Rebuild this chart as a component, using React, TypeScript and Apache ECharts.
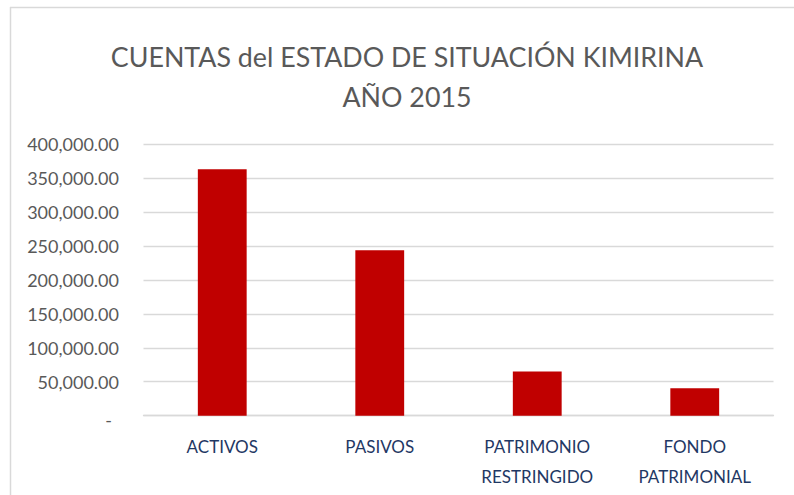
import React, { useEffect, useRef } from "react";
import * as echarts from "echarts";

const categories = ["ACTIVOS", "PASIVOS", "PATRIMONIO\nRESTRINGIDO", "FONDO\nPATRIMONIAL"];
const values = [362800, 243700, 65200, 40300];
const titleLines = ["CUENTAS del ESTADO DE SITUACIÓN KIMIRINA", "AÑO 2015"];

const fmt = (v: number) =>
  v === 0
    ? "{z|-}"
    : v.toLocaleString("en-US", { minimumFractionDigits: 2, maximumFractionDigits: 2 });

export default function App() {
  const ref = useRef<HTMLDivElement>(null);
  useEffect(() => {
    if (!ref.current) return;
    const chart = echarts.init(ref.current, undefined, { renderer: "svg" });
    chart.setOption({
      animation: false,
      backgroundColor: "#ffffff",
      title: {
        text: titleLines.join("\n"),
        left: 402,
        top: 32,
        textAlign: "center",
        textStyle: {
          fontFamily: "Lato",
          fontWeight: "normal",
          fontSize: 26.8,
          lineHeight: 40,
          color: "#595959",
        },
      },
      graphic: [
        { type: "line", shape: { x1: 10, y1: 7.5, x2: 794, y2: 7.5 }, style: { stroke: "#d9d9d9", lineWidth: 1.5 } },
        { type: "line", shape: { x1: 10.5, y1: 7, x2: 10.5, y2: 495 }, style: { stroke: "#d9d9d9", lineWidth: 1.5 } },
      ],
      grid: { left: 143.5, right: 20.5, top: 144, bottom: 79.3, containLabel: false },
      xAxis: {
        type: "category",
        data: categories,
        axisLine: { show: true, lineStyle: { color: "#d9d9d9", width: 1.3 } },
        axisTick: { show: false },
        axisLabel: {
          color: "#1f3864",
          fontFamily: "Lato",
          fontSize: 17,
          lineHeight: 30,
          margin: 16,
          interval: 0,
        },
      },
      yAxis: {
        type: "value",
        min: 0,
        max: 400000,
        interval: 50000,
        axisLine: { show: false },
        axisTick: { show: false },
        splitLine: { lineStyle: { color: "#d9d9d9", width: 1.3 } },
        axisLabel: {
          color: "#595959",
          fontFamily: "Lato",
          fontSize: 18,
          margin: 24.5,
          formatter: fmt,
          rich: { z: { color: "#595959", fontFamily: "Lato", fontSize: 18, padding: [8, 7, 0, 0] } },
        },
      },
      series: [
        {
          type: "bar",
          data: values,
          barWidth: "31%",
          itemStyle: { color: "#c00000" },
        },
      ],
    });
    return () => chart.dispose();
  }, []);
  return (
    <div
      ref={ref}
      style={{ position: "fixed", left: 0, top: 0, width: 794, height: 495 }}
    />
  );
}
